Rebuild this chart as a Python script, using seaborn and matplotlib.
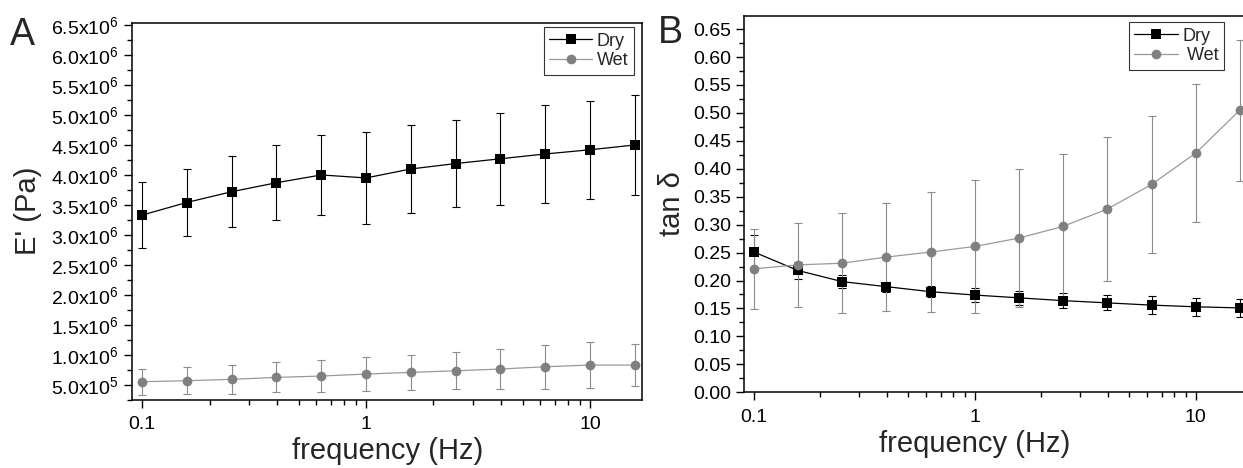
import matplotlib
matplotlib.use('Agg')
import matplotlib.pyplot as plt
import pandas as pd
import seaborn as sns
from matplotlib.lines import Line2D
from matplotlib.ticker import FixedLocator, FuncFormatter, LogLocator, MultipleLocator, NullFormatter

# frequency sweep (Hz)
freq = [0.1, 0.158, 0.251, 0.398, 0.631, 1.0, 1.585, 2.512, 3.981, 6.31, 10.0, 15.85]

# panel A: storage modulus E' (Pa)
e_dry = [3.33e6, 3.54e6, 3.72e6, 3.87e6, 4.00e6, 3.95e6, 4.10e6, 4.19e6, 4.27e6, 4.35e6, 4.42e6, 4.50e6]
e_dry_err = [0.545e6, 0.56e6, 0.59e6, 0.63e6, 0.66e6, 0.77e6, 0.73e6, 0.72e6, 0.77e6, 0.81e6, 0.82e6, 0.84e6]
e_wet = [0.55e6, 0.567e6, 0.59e6, 0.623e6, 0.645e6, 0.678e6, 0.706e6, 0.733e6, 0.762e6, 0.80e6, 0.828e6, 0.828e6]
e_wet_err = [0.22e6, 0.225e6, 0.237e6, 0.25e6, 0.267e6, 0.286e6, 0.297e6, 0.311e6, 0.328e6, 0.365e6, 0.377e6, 0.348e6]

# panel B: tan delta
t_dry = [0.251, 0.218, 0.198, 0.189, 0.180, 0.174, 0.169, 0.164, 0.160, 0.156, 0.153, 0.151]
t_dry_err = [0.03, 0.015, 0.012, 0.009, 0.01, 0.0125, 0.0125, 0.013, 0.0135, 0.0155, 0.016, 0.016]
t_wet = [0.221, 0.228, 0.231, 0.242, 0.251, 0.261, 0.276, 0.297, 0.328, 0.372, 0.428, 0.505]
t_wet_err = [0.072, 0.075, 0.089, 0.097, 0.108, 0.119, 0.124, 0.129, 0.129, 0.122, 0.124, 0.126]

x_ticks = [0.1, 1, 10]
x_tick_labels = ['0.1', '1', '10']
a_yticks = [5e5, 1e6, 1.5e6, 2e6, 2.5e6, 3e6, 3.5e6, 4e6, 4.5e6, 5e6, 5.5e6, 6e6, 6.5e6]
b_yticks = [0.0, 0.05, 0.10, 0.15, 0.20, 0.25, 0.30, 0.35, 0.40, 0.45, 0.50, 0.55, 0.60, 0.65]

sns.set_style('ticks')
plt.rcParams['font.family'] = ['Liberation Sans', 'DejaVu Sans']
plt.rcParams['mathtext.fontset'] = 'custom'
plt.rcParams['mathtext.rm'] = 'Liberation Sans'
plt.rcParams['mathtext.default'] = 'regular'

DRY_C = 'black'
WET_LINE = '#9a9a9a'
WET_MARK = '#808080'
MS = 7


def sci_fmt(v, pos):
    exp = 6 if v >= 1e6 else 5
    return '%.1fx10$^{%d}$' % (v / 10 ** exp, exp)


def draw_panel(ax, dry, dry_err, wet, wet_err):
    ax.errorbar(freq, dry, yerr=dry_err, fmt='none', ecolor=DRY_C, elinewidth=0.8,
                capsize=3, capthick=0.8, zorder=1)
    ax.errorbar(freq, wet, yerr=wet_err, fmt='none', ecolor='#8c8c8c', elinewidth=0.8,
                capsize=3, capthick=0.8, zorder=1)
    df = pd.DataFrame({'freq': freq * 2, 'value': dry + wet,
                       'sample': ['Dry'] * len(freq) + ['Wet'] * len(freq)})
    sns.lineplot(data=df, x='freq', y='value', hue='sample', style='sample',
                 markers={'Dry': 's', 'Wet': 'o'}, dashes=False,
                 palette={'Dry': DRY_C, 'Wet': WET_LINE}, markersize=MS,
                 markeredgewidth=0, linewidth=0.9, legend=False, errorbar=None,
                 sort=False, ax=ax)
    for ln in ax.lines:
        if ln.get_marker() == 'o':
            ln.set_markerfacecolor(WET_MARK)
            ln.set_markeredgecolor(WET_MARK)
            ln.set_zorder(3)
    ax.set_xscale('log')
    ax.set_xlim(0.0904, 17.06)
    ax.xaxis.set_major_locator(FixedLocator(x_ticks))
    ax.set_xticklabels(x_tick_labels)
    ax.xaxis.set_minor_locator(LogLocator(base=10, subs=range(2, 10)))
    ax.xaxis.set_minor_formatter(NullFormatter())
    ax.tick_params(which='major', direction='out', length=6, width=1, labelsize=14,
                   color='black', labelcolor='black', pad=3.5)
    ax.tick_params(which='minor', direction='out', length=3.5, width=1, color='black')
    ax.tick_params(axis='x', which='major', pad=6)
    for s in ax.spines.values():
        s.set_visible(True)
        s.set_linewidth(1.1)
        s.set_color('black')
    ax.set_xlabel('frequency (Hz)', fontsize=21)
    ax.grid(False)


fig = plt.figure(figsize=(12.43, 4.68), dpi=100)
ax_a = fig.add_axes([0.1064, 0.1459, 0.4101, 0.8056])
ax_b = fig.add_axes([0.5988, 0.1618, 0.4044, 0.8047])

draw_panel(ax_a, e_dry, e_dry_err, e_wet, e_wet_err)
ax_a.set_ylim(2.5e5, 6.54e6)
ax_a.yaxis.set_major_locator(FixedLocator(a_yticks))
ax_a.yaxis.set_major_formatter(FuncFormatter(sci_fmt))
ax_a.yaxis.set_minor_locator(MultipleLocator(2.5e5))
ax_a.set_ylabel("E' (Pa)", fontsize=21)
ax_a.yaxis.set_label_coords(-0.178, 0.5)
ax_a.xaxis.set_label_coords(0.5, -0.1)

draw_panel(ax_b, t_dry, t_dry_err, t_wet, t_wet_err)
ax_b.set_ylim(0, 0.674)
ax_b.yaxis.set_major_locator(FixedLocator(b_yticks))
ax_b.yaxis.set_major_formatter(FuncFormatter(lambda v, p: '%.2f' % v))
ax_b.yaxis.set_minor_locator(MultipleLocator(0.025))
ax_b.set_ylabel('tan δ', fontsize=21)
ax_b.yaxis.set_label_coords(-0.116, 0.5)
ax_b.xaxis.set_label_coords(0.459, -0.1)


def legend_handles():
    return [Line2D([], [], color=DRY_C, lw=0.9, marker='s', ms=MS, mew=0),
            Line2D([], [], color=WET_LINE, lw=0.9, marker='o', ms=MS, mew=0,
                   mfc=WET_MARK)]


for ax, labels, anchor in [(ax_a, ['Dry', 'Wet'], (0.9843, 0.9878)),
                           (ax_b, ['Dry', ' Wet'], (0.9548, 0.9825))]:
    leg = ax.legend(legend_handles(), labels, loc='upper right', bbox_to_anchor=anchor,
                    borderaxespad=0, fontsize=13, frameon=True, fancybox=False,
                    handlelength=2.4, handletextpad=0.25, labelspacing=0.15,
                    borderpad=0.3)
    leg.get_frame().set_edgecolor('black')
    leg.get_frame().set_linewidth(0.8)

fig.text(10 / 1243, 1 - 17 / 468, 'A', fontsize=27, ha='left', va='top')
fig.text(658 / 1243, 1 - 15 / 468, 'B', fontsize=27, ha='left', va='top')

fig.savefig('out.png', dpi=100)
